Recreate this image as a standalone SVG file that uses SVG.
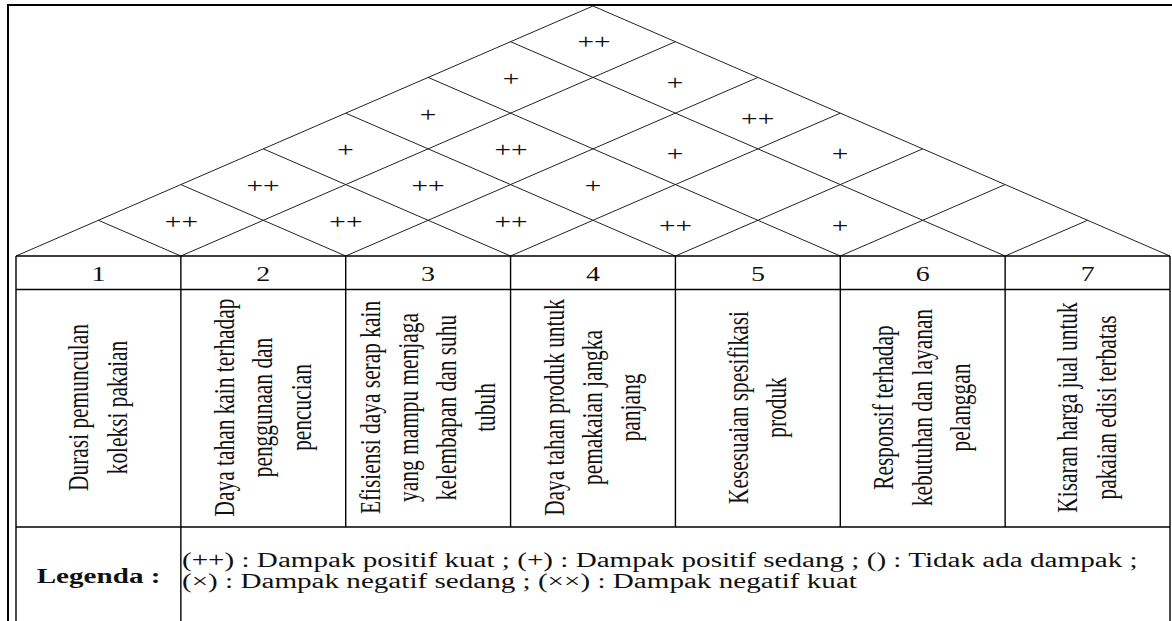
<svg xmlns="http://www.w3.org/2000/svg" width="1172" height="621" viewBox="0 0 1172 621">
  <style>
    .frame { stroke: #000; stroke-width: 2; fill: none; }
    .roof { stroke: #222; stroke-width: 1; fill: none; }
    .grid { stroke: #000; stroke-width: 1.4; fill: none; }
    .t { font-family: "Liberation Serif", "Times New Roman", serif; fill: #111; }
    .pl { font-size: 21px; text-anchor: middle; }
    .num { font-size: 20px; text-anchor: middle; }
    .desc { font-size: 21.4px; text-anchor: middle; }
    .leg { font-size: 20.8px; }
    .legb { font-size: 20.8px; font-weight: bold; text-anchor: middle; }
  </style>
  <rect width="1172" height="621" fill="#fff"/>

  <!-- outer frame -->
  <g id="frame" class="frame">
    <path d="M8,640 L8,5 L1180,5"/>
  </g>

  <!-- roof (correlation matrix) -->
  <g id="roof" class="roof">
    <path d="M16,256 L593,6 L1170,256"/>
    <path d="M180.857,256 L675.429,41.714"/>
    <path d="M345.714,256 L757.857,77.429"/>
    <path d="M510.571,256 L840.286,113.143"/>
    <path d="M675.429,256 L922.714,148.857"/>
    <path d="M840.286,256 L1005.143,184.571"/>
    <path d="M1005.143,256 L1087.571,220.286"/>
    <path d="M180.857,256 L98.429,220.286"/>
    <path d="M345.714,256 L180.857,184.571"/>
    <path d="M510.571,256 L263.286,148.857"/>
    <path d="M675.429,256 L345.714,113.143"/>
    <path d="M840.286,256 L428.143,77.429"/>
    <path d="M1005.143,256 L510.571,41.714"/>
  </g>

  <!-- roof symbols -->
  <g id="roof-symbols" class="t pl" transform="scale(1.4,1)">
    <text x="424.3" y="49.3">++</text>
    <text x="365" y="86">+</text>
    <text x="482.1" y="90.3">+</text>
    <text x="305.7" y="122">+</text>
    <text x="541.2" y="126">++</text>
    <text x="246.9" y="157">+</text>
    <text x="365" y="157">++</text>
    <text x="482.1" y="161.3">+</text>
    <text x="600" y="161.3">+</text>
    <text x="187.9" y="193.3">++</text>
    <text x="305.7" y="193">++</text>
    <text x="423.6" y="193">+</text>
    <text x="129.6" y="229.3">++</text>
    <text x="247.1" y="229.3">++</text>
    <text x="365" y="228.6">++</text>
    <text x="482.6" y="233">++</text>
    <text x="600" y="233">+</text>
  </g>

  <!-- table grid -->
  <g id="table" class="grid">
    <path d="M16,256 L1170,256 M16,289.5 L1170,289.5 M16,527 L1170,527"/>
    <path d="M16,256 L16,640 M1170,256 L1170,640"/>
    <path d="M180.857,256 L180.857,640"/>
    <path d="M345.714,256 L345.714,527 M510.571,256 L510.571,527 M675.429,256 L675.429,527 M840.286,256 L840.286,527 M1005.143,256 L1005.143,527"/>
  </g>

  <!-- column numbers -->
  <g id="numbers" class="t num" transform="scale(1.4,1)">
    <text x="70.3" y="281">1</text>
    <text x="188.1" y="281">2</text>
    <text x="305.8" y="281">3</text>
    <text x="423.6" y="281">4</text>
    <text x="541.4" y="281">5</text>
    <text x="659.1" y="281">6</text>
    <text x="776.9" y="281">7</text>
  </g>

  <!-- column descriptions -->
  <g id="col1" class="t desc">
    <text transform="translate(88.2,407.5) scale(1.4,1) rotate(-90)"><tspan x="0" y="0">Durasi pemunculan</tspan><tspan x="0" dy="27.43">koleksi pakaian</tspan></text>
  </g>
  <g id="col2" class="t desc">
    <text transform="translate(233.9,407.5) scale(1.4,1) rotate(-90)"><tspan x="0" y="0">Daya tahan kain terhadap</tspan><tspan x="0" dy="27.43">penggunaan dan</tspan><tspan x="0" dy="27.43">pencucian</tspan></text>
  </g>
  <g id="col3" class="t desc">
    <text transform="translate(379.5,407.5) scale(1.4,1) rotate(-90)"><tspan x="0" y="0">Efisiensi daya serap kain</tspan><tspan x="0" dy="27.43">yang mampu menjaga</tspan><tspan x="0" dy="27.43">kelembapan dan suhu</tspan><tspan x="0" dy="27.43">tubuh</tspan></text>
  </g>
  <g id="col4" class="t desc">
    <text transform="translate(563.6,407.5) scale(1.4,1) rotate(-90)"><tspan x="0" y="0">Daya tahan produk untuk</tspan><tspan x="0" dy="27.43">pemakaian jangka</tspan><tspan x="0" dy="27.43">panjang</tspan></text>
  </g>
  <g id="col5" class="t desc">
    <text transform="translate(747.7,407.5) scale(1.4,1) rotate(-90)"><tspan x="0" y="0">Kesesuaian spesifikasi</tspan><tspan x="0" dy="27.43">produk</tspan></text>
  </g>
  <g id="col6" class="t desc">
    <text transform="translate(893.3,407.5) scale(1.4,1) rotate(-90)"><tspan x="0" y="0">Responsif terhadap</tspan><tspan x="0" dy="27.43">kebutuhan dan layanan</tspan><tspan x="0" dy="27.43">pelanggan</tspan></text>
  </g>
  <g id="col7" class="t desc">
    <text transform="translate(1077.4,407.5) scale(1.4,1) rotate(-90)"><tspan x="0" y="0">Kisaran harga jual untuk</tspan><tspan x="0" dy="27.43">pakaian edisi terbatas</tspan></text>
  </g>

  <!-- legend -->
  <g id="legend" class="t" transform="scale(1.4,1)">
    <text class="legb" x="70.4" y="583.3">Legenda :</text>
    <text class="leg" x="130" y="566.7">(++) : Dampak positif kuat ; (+) : Dampak positif sedang ; () : Tidak ada dampak ;</text>
    <text class="leg" x="130" y="588.3">(×) : Dampak negatif sedang ; (××) : Dampak negatif kuat</text>
  </g>
</svg>
